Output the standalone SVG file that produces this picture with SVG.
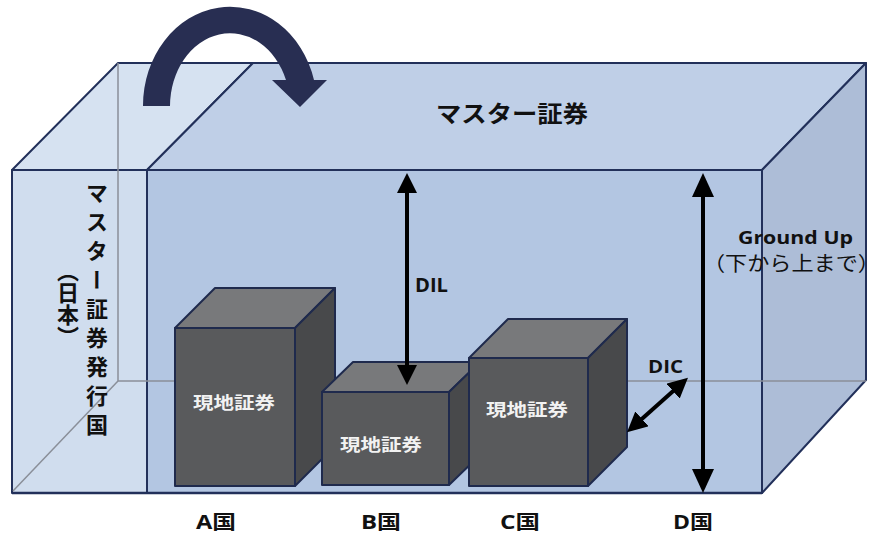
<svg xmlns="http://www.w3.org/2000/svg" width="883" height="535" viewBox="0 0 883 535">
<style>
.edge{stroke:#22305a;stroke-width:2;stroke-linejoin:round}
.hid{stroke:#8a8f99;stroke-width:1.5;fill:none}
.cube{stroke:#1f2a4d;stroke-width:2;stroke-linejoin:round}
.cf{fill:#595a5c}.ct{fill:#78797b}.cr{fill:#48494b}
.jp{font-family:"Noto Sans CJK JP","Noto Sans",sans-serif}
.lat{font-family:"Open Sans","Noto Sans CJK JP",sans-serif;font-weight:bold;fill:#111}
.wl{fill:#f2f2f2;font-weight:bold;font-size:17px}
.arr{stroke:#000;stroke-width:4;fill:none}
</style>
<defs>
<marker id="ah" viewBox="0 0 20 20" refX="10" refY="10" markerWidth="20" markerHeight="20" markerUnits="userSpaceOnUse" orient="auto-start-reverse">
<path d="M0,0 L20,10 L0,20 Z" fill="#000"/>
</marker>
<marker id="ah2" viewBox="0 0 24 22" refX="12" refY="11" markerWidth="24" markerHeight="22" markerUnits="userSpaceOnUse" orient="auto-start-reverse">
<path d="M0,0 L24,11 L0,22 Z" fill="#000"/>
</marker>
</defs>

<g id="japan-box">
<polygon points="12,170 118,63 253,63 147,170" fill="#d6e2f1" class="edge"/>
<rect x="12" y="170" width="135" height="323" fill="#d0ddee" class="edge"/>
</g>

<g id="master-box">
<polygon points="147,170 253,63 866,63 762,170" fill="#bfcfe7" class="edge"/>
<polygon points="762,170 866,63 866,380 762,493" fill="#adbdd7" class="edge"/>
<rect x="147" y="170" width="615" height="323" fill="#b3c6e2" class="edge"/>
<line x1="12" y1="493" x2="762" y2="493" stroke="#22305a" stroke-width="2.5"/>
</g>

<g id="hidden-edges">
<polyline class="hid" points="118,63 118,381 866,381"/>
<line class="hid" x1="118" y1="381" x2="13" y2="491"/>
</g>

<g id="cube-a">
<polygon class="cube ct" points="175,328 215,288 335,288 295,328"/>
<polygon class="cube cr" points="295,328 335,288 335,446 295,486"/>
<rect class="cube cf" x="175" y="328" width="120" height="158"/>
<text class="jp wl" x="193" y="409" textLength="82" lengthAdjust="spacingAndGlyphs">現地証券</text>
</g>

<g id="cube-b">
<polygon class="cube ct" points="322,392 353,362 480,362 449,392"/>
<polygon class="cube cr" points="449,392 480,362 480,455 449,485"/>
<rect class="cube cf" x="322" y="392" width="127" height="93"/>
<text class="jp wl" x="340" y="451" textLength="82" lengthAdjust="spacingAndGlyphs">現地証券</text>
</g>

<g id="cube-c">
<polygon class="cube ct" points="469,358 508,319 627,319 588,358"/>
<polygon class="cube cr" points="588,358 627,319 627,447 588,486"/>
<rect class="cube cf" x="469" y="358" width="119" height="128"/>
<text class="jp wl" x="486" y="416" textLength="82" lengthAdjust="spacingAndGlyphs">現地証券</text>
</g>

<g id="connectors">
<path d="M143,106 A87,99 0 0 1 314,80 L327,80 L300,107 L272,80 L286,80 A60,73 0 0 0 170,106 Z" fill="#282e52"/>
<line class="arr" x1="407" y1="183" x2="407" y2="375" marker-start="url(#ah)" marker-end="url(#ah)"/>
<line class="arr" x1="703" y1="185" x2="703" y2="481" marker-start="url(#ah2)" marker-end="url(#ah2)"/>
<line class="arr" x1="634.5" y1="425.5" x2="680.5" y2="384.5" marker-start="url(#ah)" marker-end="url(#ah)"/>
</g>

<g id="labels">
<text class="jp" x="436" y="122" font-size="23" font-weight="bold" fill="#111" textLength="152" lengthAdjust="spacingAndGlyphs">マスター証券</text>
<text class="jp" x="97" y="182" font-size="22" font-weight="bold" fill="#111" letter-spacing="7" style="writing-mode:vertical-rl">マスター証券発行国</text>
<text class="jp" x="68" y="260" font-size="22" font-weight="bold" fill="#111" style="writing-mode:vertical-rl">（日本）</text>
<text class="lat" x="415" y="292" font-size="19" textLength="33" lengthAdjust="spacingAndGlyphs">DIL</text>
<text class="lat" x="648" y="373" font-size="18" textLength="35" lengthAdjust="spacingAndGlyphs">DIC</text>
<text class="lat" x="738" y="244" font-size="17" textLength="115" lengthAdjust="spacingAndGlyphs">Ground Up</text>
<text class="jp" x="703" y="271" font-size="20" fill="#111" textLength="177" lengthAdjust="spacingAndGlyphs">（下から上まで）</text>
<text class="lat" x="196" y="529" font-size="19" textLength="40" lengthAdjust="spacingAndGlyphs">A国</text>
<text class="lat" x="361" y="529" font-size="19" textLength="40" lengthAdjust="spacingAndGlyphs">B国</text>
<text class="lat" x="500" y="529" font-size="19" textLength="40" lengthAdjust="spacingAndGlyphs">C国</text>
<text class="lat" x="673" y="529" font-size="19" textLength="40" lengthAdjust="spacingAndGlyphs">D国</text>
</g>
</svg>
